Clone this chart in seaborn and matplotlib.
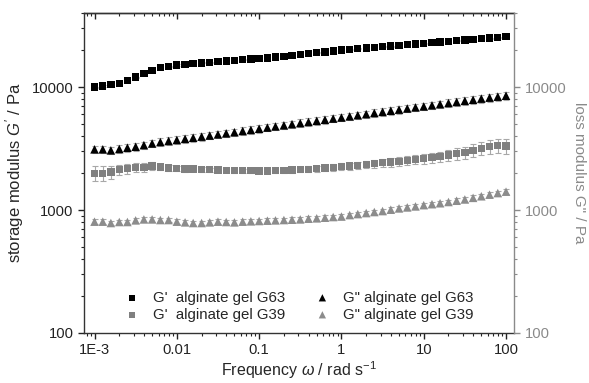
import numpy as np
import pandas as pd
import matplotlib
matplotlib.use("Agg")
import matplotlib.pyplot as plt
import matplotlib.ticker as mticker
import seaborn as sns

# ---------------- data ----------------
freq = [0.001, 0.00126, 0.00158, 0.002, 0.00251, 0.00316, 0.00398, 0.00501, 0.00631, 0.00794,
        0.01, 0.0126, 0.0158, 0.02, 0.0251, 0.0316, 0.0398, 0.0501, 0.0631, 0.0794,
        0.1, 0.126, 0.158, 0.2, 0.251, 0.316, 0.398, 0.501, 0.631, 0.794,
        1.0, 1.26, 1.58, 2.0, 2.51, 3.16, 3.98, 5.01, 6.31, 7.94,
        10.0, 12.6, 15.8, 20.0, 25.1, 31.6, 39.8, 50.1, 63.1, 79.4, 100.0]

g1_G63 = [10000, 10200, 10500, 10650, 11300, 12050, 12850, 13650, 14350, 14700,
          15100, 15300, 15500, 15700, 15900, 16100, 16300, 16500, 16700, 16900,
          17100, 17250, 17500, 17800, 18100, 18450, 18700, 19000, 19300, 19650,
          20000, 20250, 20500, 20750, 21000, 21300, 21550, 21800, 22100, 22350,
          22650, 22900, 23200, 23500, 23800, 24100, 24400, 24700, 25000, 25400, 25650]

g2_G63 = [3115, 3115, 3055, 3135, 3210, 3270, 3370, 3475, 3570, 3640,
          3710, 3790, 3870, 3950, 4030, 4120, 4200, 4290, 4390, 4480,
          4580, 4680, 4780, 4880, 4990, 5090, 5200, 5310, 5420, 5540,
          5650, 5770, 5900, 6020, 6150, 6280, 6420, 6550, 6690, 6830,
          6950, 7100, 7250, 7410, 7560, 7720, 7880, 8050, 8200, 8350, 8500]

g1_G39 = [1986, 1986, 2036, 2130, 2170, 2225, 2225, 2280, 2240, 2195,
          2170, 2160, 2150, 2140, 2130, 2115, 2105, 2100, 2090, 2085,
          2075, 2080, 2090, 2100, 2115, 2130, 2145, 2165, 2190, 2220,
          2250, 2280, 2310, 2340, 2380, 2420, 2450, 2490, 2530, 2570,
          2610, 2660, 2710, 2800, 2870, 2925, 3058, 3175, 3275, 3360, 3310]

g2_G39 = [804, 804, 784, 799, 799, 824, 839, 839, 829, 829,
          804, 794, 784, 784, 794, 804, 799, 794, 804, 809,
          814, 819, 824, 829, 834, 839, 850, 856, 866, 877,
          885, 910, 927, 945, 963, 981, 1006, 1031, 1050, 1070,
          1096, 1116, 1136, 1162, 1190, 1219, 1256, 1294, 1333, 1374, 1410]

# relative standard deviations (error bars)
rel_g1_G63 = [0.01] * 51
rel_g2_G63 = [0.07] * 51
rel_g1_G39 = [0.14, 0.14, 0.12, 0.10, 0.10, 0.09, 0.08, 0.07, 0.06, 0.06,
              0.05, 0.05, 0.04, 0.04, 0.04, 0.04, 0.04, 0.04, 0.04, 0.04,
              0.04, 0.045, 0.045, 0.05, 0.05, 0.05, 0.055, 0.055, 0.06, 0.06,
              0.065, 0.065, 0.07, 0.07, 0.075, 0.075, 0.08, 0.08, 0.085, 0.085,
              0.09, 0.09, 0.10, 0.10, 0.11, 0.11, 0.12, 0.12, 0.13, 0.13, 0.14]
rel_g2_G39 = [0.045] * 51

labels = ["G'  alginate gel G63", "G'  alginate gel G39",
          "G\" alginate gel G63", "G\" alginate gel G39"]
xtick_vals = [0.001, 0.01, 0.1, 1, 10, 100]
xtick_labels = ["1E-3", "0.01", "0.1", "1", "10", "100"]
ytick_vals = [100, 1000, 10000]
ytick_labels = ["100", "1000", "10000"]

# ---------------- style ----------------
sns.set_style("ticks")
plt.rcParams["font.family"] = ["Liberation Sans", "DejaVu Sans"]
plt.rcParams["mathtext.fontset"] = "custom"
plt.rcParams["mathtext.rm"] = "Liberation Sans"
plt.rcParams["mathtext.it"] = "Liberation Sans:italic"
plt.rcParams["axes.edgecolor"] = "#333333"
plt.rcParams["axes.linewidth"] = 1.0

fig = plt.figure(figsize=(5.89, 3.83), dpi=100)
ax = fig.add_axes([84 / 589, 50 / 383, 430 / 589, 320 / 383])

series = [
    (g1_G63, rel_g1_G63, "#000000", "s", 28, labels[0]),
    (g1_G39, rel_g1_G39, "#808080", "s", 28, labels[1]),
    (g2_G63, rel_g2_G63, "#000000", "^", 38, labels[2]),
    (g2_G39, rel_g2_G39, "#8c8c8c", "^", 38, labels[3]),
]

for vals, rel, col, mk, size, lab in series:
    v = np.array(vals, dtype=float)
    err = v * np.array(rel)
    ax.errorbar(freq, v, yerr=err, fmt="none", ecolor="#a8a8a8",
                elinewidth=0.8, capsize=2, capthick=0.8, zorder=1)
    df = pd.DataFrame({"freq": freq, "val": v})
    sns.scatterplot(data=df, x="freq", y="val", ax=ax, color=col, marker=mk,
                    s=size, edgecolor="none", linewidth=0, label=lab, zorder=3)

ax.set_xscale("log")
ax.set_yscale("log")
ax.set_xlim(7.45e-4, 125)
ax.set_ylim(100, 40000)

ax.xaxis.set_major_locator(mticker.FixedLocator(xtick_vals))
ax.xaxis.set_major_formatter(mticker.FixedFormatter(xtick_labels))
ax.xaxis.set_minor_locator(mticker.LogLocator(base=10, subs=np.arange(2, 10)))
ax.xaxis.set_minor_formatter(mticker.NullFormatter())
ax.yaxis.set_major_locator(mticker.FixedLocator(ytick_vals))
ax.yaxis.set_major_formatter(mticker.FixedFormatter(ytick_labels))
ax.yaxis.set_minor_locator(mticker.LogLocator(base=10, subs=np.arange(2, 10)))
ax.yaxis.set_minor_formatter(mticker.NullFormatter())

ax.tick_params(which="major", direction="out", length=4.5, width=1, labelsize=10.6,
               colors="#222222", pad=3)
ax.tick_params(which="minor", direction="out", length=2.5, width=0.8, colors="#222222")
ax.tick_params(axis="y", right=False)
ax.tick_params(axis="x", top=False)

ax.set_xlabel(r"Frequency $\omega$ / rad s$^{-1}$", fontsize=11.5, labelpad=1)
ax.set_ylabel(r"storage modulus $G'$ / Pa", fontsize=12, labelpad=4)

# top mirrored ticks (inward)
top = ax.secondary_xaxis("top")
top.xaxis.set_major_locator(mticker.FixedLocator(xtick_vals))
top.xaxis.set_minor_locator(mticker.LogLocator(base=10, subs=np.arange(2, 10)))
top.tick_params(which="major", direction="in", length=4.5, width=1, labeltop=False,
                colors="#222222")
top.tick_params(which="minor", direction="in", length=2.5, width=0.8, colors="#222222")
top.xaxis.set_major_formatter(mticker.NullFormatter())
top.xaxis.set_minor_formatter(mticker.NullFormatter())

# right gray axis for loss modulus
gray = "#8a8a8a"
ax2 = ax.twinx()
ax2.set_yscale("log")
ax2.set_ylim(ax.get_ylim())
ax2.yaxis.set_major_locator(mticker.FixedLocator(ytick_vals))
ax2.yaxis.set_major_formatter(mticker.FixedFormatter(ytick_labels))
ax2.yaxis.set_minor_locator(mticker.LogLocator(base=10, subs=np.arange(2, 10)))
ax2.yaxis.set_minor_formatter(mticker.NullFormatter())
ax2.tick_params(axis="y", which="major", direction="out", length=4.5, width=1,
                colors=gray, labelsize=10.6, pad=3)
ax2.tick_params(axis="y", which="minor", direction="out", length=2.5, width=0.8, colors=gray)
ax2.spines["right"].set_color(gray)
for s in ["top", "left", "bottom"]:
    ax2.spines[s].set_visible(False)
ax2.set_ylabel("loss modulus G\" / Pa", color=gray, fontsize=11, rotation=270, labelpad=14)

sns.despine(ax=ax, top=False, right=False)
ax.spines["right"].set_visible(False)

h, l = ax.get_legend_handles_labels()
ax.legend(h, l, ncol=2, frameon=False, loc="lower center", bbox_to_anchor=(0.5, 0.0),
          fontsize=10.8, handlelength=1.0, handletextpad=0.9, columnspacing=2.0,
          labelspacing=0.2, markerscale=0.85, borderaxespad=0.35)

fig.savefig("out.png", dpi=100)
